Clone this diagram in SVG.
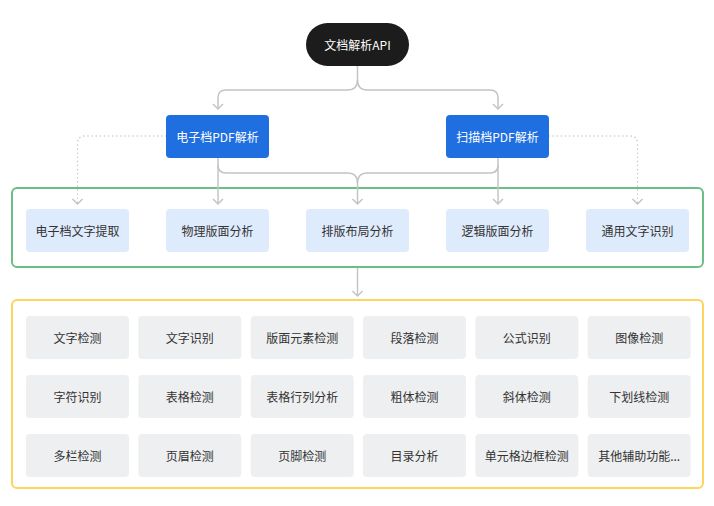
<svg xmlns="http://www.w3.org/2000/svg" width="714" height="506" viewBox="0 0 714 506">
<style>
text{font-family:"Noto Sans CJK SC","Noto Sans",sans-serif;font-size:12px;text-anchor:middle;dominant-baseline:central;fill:#333}
.w{fill:#fff}
.conn{fill:none;stroke:#c4c4c4;stroke-width:1.5}
.dot{fill:none;stroke:#c8c8c8;stroke-width:1.5;stroke-dasharray:0.1 4;stroke-linecap:round}
.lb{fill:#deebfc}
.gr{fill:#eeeff1}
</style>
<defs>
<marker id="arr" viewBox="-7 -7 14 14" refX="0" refY="0" markerWidth="14" markerHeight="14" markerUnits="userSpaceOnUse" orient="auto">
<path d="M-5,-5 L0,0 L-5,5" fill="none" stroke="#c4c4c4" stroke-width="1.5"/>
</marker>
</defs>
<rect width="714" height="506" fill="#fff"/>
<g id="containers">
<rect x="12" y="188" width="691" height="79" rx="5" fill="none" stroke="#6cbf84" stroke-width="2"/>
<rect x="12" y="300" width="691" height="188" rx="5" fill="none" stroke="#fcd45e" stroke-width="2"/>
</g>
<g id="connectors">
<path class="conn" d="M357.5,66 V80 Q357.5,90 347.5,90 H226 Q218,90 218,98 V109" marker-end="url(#arr)"/>
<path class="conn" d="M357.5,80 Q357.5,90 367.5,90 H490 Q498,90 498,98 V109" marker-end="url(#arr)"/>
<path class="conn" d="M218,158 V204" marker-end="url(#arr)"/>
<path class="conn" d="M498,158 V204" marker-end="url(#arr)"/>
<path class="conn" d="M218,165 Q218,173 226,173 H347.5 Q357.5,173 357.5,183 V204" marker-end="url(#arr)"/>
<path class="conn" d="M498,165 Q498,173 490,173 H367.5 Q357.5,173 357.5,183"/>
<path class="dot" d="M166,136 H85 Q77.5,136 77.5,143.5 V204"/>
<path class="conn" d="M77.5,203 V204" stroke="none" marker-end="url(#arr)"/>
<path class="dot" d="M549,136 H630 Q637.5,136 637.5,143.5 V204"/>
<path class="conn" d="M637.5,203 V204" stroke="none" marker-end="url(#arr)"/>
<path class="conn" d="M357.5,268 V296" marker-end="url(#arr)"/>
</g>
<g id="api"><rect x="306" y="23" width="103" height="43" rx="21.5" fill="#1c1c1c"/><text class="w" x="357.5" y="44.5">文档解析API</text></g>
<g id="edoc"><rect x="166" y="115" width="103" height="43" rx="4" fill="#1f6fe0"/><text class="w" x="217.5" y="136.5">电子档PDF解析</text></g>
<g id="scan"><rect x="446" y="115" width="103" height="43" rx="4" fill="#1f6fe0"/><text class="w" x="497.5" y="136.5">扫描档PDF解析</text></g>
<g id="m1"><rect class="lb" x="26" y="209" width="103" height="43" rx="4"/><text x="77.5" y="230.5">电子档文字提取</text></g>
<g id="m2"><rect class="lb" x="166" y="209" width="103" height="43" rx="4"/><text x="217.5" y="230.5">物理版面分析</text></g>
<g id="m3"><rect class="lb" x="306" y="209" width="103" height="43" rx="4"/><text x="357.5" y="230.5">排版布局分析</text></g>
<g id="m4"><rect class="lb" x="446" y="209" width="103" height="43" rx="4"/><text x="497.5" y="230.5">逻辑版面分析</text></g>
<g id="m5"><rect class="lb" x="586" y="209" width="103" height="43" rx="4"/><text x="637.5" y="230.5">通用文字识别</text></g>
<g id="g11"><rect class="gr" x="26" y="316" width="103" height="43" rx="4"/><text x="77.5" y="337.5">文字检测</text></g>
<g id="g12"><rect class="gr" x="138.3" y="316" width="103" height="43" rx="4"/><text x="189.8" y="337.5">文字识别</text></g>
<g id="g13"><rect class="gr" x="250.7" y="316" width="103" height="43" rx="4"/><text x="302.2" y="337.5">版面元素检测</text></g>
<g id="g14"><rect class="gr" x="363" y="316" width="103" height="43" rx="4"/><text x="414.5" y="337.5">段落检测</text></g>
<g id="g15"><rect class="gr" x="475.3" y="316" width="103" height="43" rx="4"/><text x="526.8" y="337.5">公式识别</text></g>
<g id="g16"><rect class="gr" x="587.7" y="316" width="103" height="43" rx="4"/><text x="639.2" y="337.5">图像检测</text></g>
<g id="g21"><rect class="gr" x="26" y="375" width="103" height="43" rx="4"/><text x="77.5" y="396.5">字符识别</text></g>
<g id="g22"><rect class="gr" x="138.3" y="375" width="103" height="43" rx="4"/><text x="189.8" y="396.5">表格检测</text></g>
<g id="g23"><rect class="gr" x="250.7" y="375" width="103" height="43" rx="4"/><text x="302.2" y="396.5">表格行列分析</text></g>
<g id="g24"><rect class="gr" x="363" y="375" width="103" height="43" rx="4"/><text x="414.5" y="396.5">粗体检测</text></g>
<g id="g25"><rect class="gr" x="475.3" y="375" width="103" height="43" rx="4"/><text x="526.8" y="396.5">斜体检测</text></g>
<g id="g26"><rect class="gr" x="587.7" y="375" width="103" height="43" rx="4"/><text x="639.2" y="396.5">下划线检测</text></g>
<g id="g31"><rect class="gr" x="26" y="434" width="103" height="43" rx="4"/><text x="77.5" y="455.5">多栏检测</text></g>
<g id="g32"><rect class="gr" x="138.3" y="434" width="103" height="43" rx="4"/><text x="189.8" y="455.5">页眉检测</text></g>
<g id="g33"><rect class="gr" x="250.7" y="434" width="103" height="43" rx="4"/><text x="302.2" y="455.5">页脚检测</text></g>
<g id="g34"><rect class="gr" x="363" y="434" width="103" height="43" rx="4"/><text x="414.5" y="455.5">目录分析</text></g>
<g id="g35"><rect class="gr" x="475.3" y="434" width="103" height="43" rx="4"/><text x="526.8" y="455.5">单元格边框检测</text></g>
<g id="g36"><rect class="gr" x="587.7" y="434" width="103" height="43" rx="4"/><text x="639.2" y="455.5">其他辅助功能...</text></g>
</svg>
